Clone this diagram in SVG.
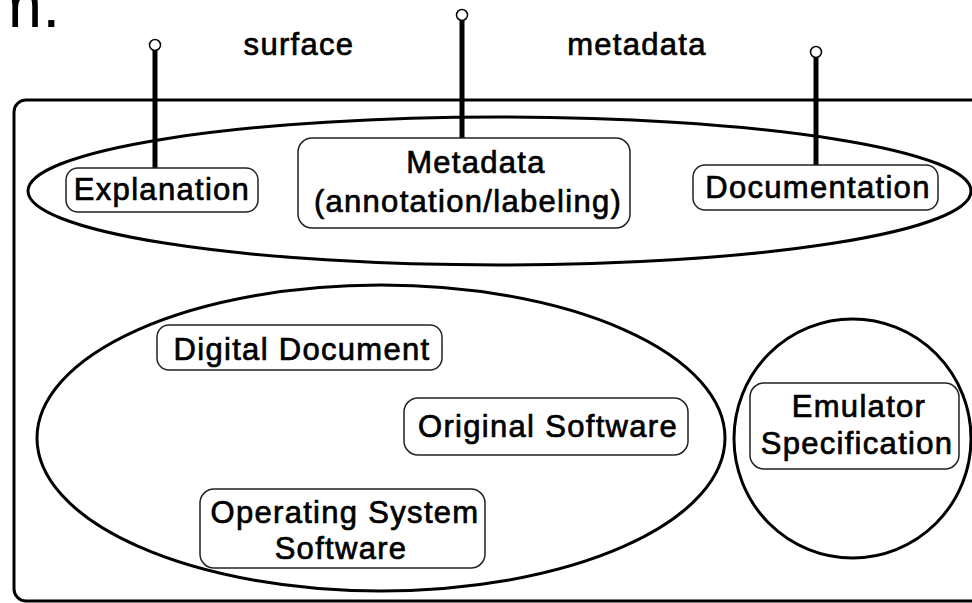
<svg xmlns="http://www.w3.org/2000/svg" width="972" height="603" viewBox="0 0 972 603">
<style>
  text { font-family: "Liberation Sans", Arial, sans-serif; fill: #000; }
  .lbl { font-size: 31px; letter-spacing: 1.3px; text-anchor: middle; stroke: #000; stroke-width: 0.7px; }
  .box { fill: #fff; stroke: #222; stroke-width: 1.5; }
  .area { fill: none; stroke: #000; stroke-width: 3; }
  .pin { stroke: #000; stroke-width: 5; fill: none; }
  .knob { fill: #fff; stroke: #000; stroke-width: 1.5; }
</style>
<rect width="972" height="603" fill="#fff"/>
<text x="-12" y="27" style="font-size:65px">m.</text>

<g id="frame">
  <rect class="area" x="14" y="100" width="1000" height="501" rx="12"/>
</g>
<g id="surface-metadata">
  <ellipse class="area" cx="499.5" cy="191" rx="471.5" ry="74"/>
</g>
<g id="core">
  <ellipse class="area" cx="381" cy="438" rx="344" ry="153"/>
</g>
<g id="emulator-area">
  <ellipse class="area" cx="852.5" cy="438.5" rx="118.5" ry="119.5"/>
</g>

<g id="connectors">
  <line class="pin" x1="155" y1="50" x2="155" y2="168"/>
  <circle class="knob" cx="155" cy="45" r="5.5"/>
  <line class="pin" x1="462" y1="20" x2="462" y2="138"/>
  <circle class="knob" cx="462" cy="15" r="5.5"/>
  <line class="pin" x1="816" y1="57" x2="816" y2="165"/>
  <circle class="knob" cx="816" cy="52" r="5.5"/>
</g>

<g id="label-surface"><text class="lbl" x="299" y="55">surface</text></g>
<g id="label-metadata"><text class="lbl" x="637" y="55">metadata</text></g>

<g id="explanation">
  <rect class="box" x="66" y="168" width="192" height="44" rx="12"/>
  <text class="lbl" x="162" y="200">Explanation</text>
</g>
<g id="metadata">
  <rect class="box" x="298" y="138" width="332" height="90" rx="14"/>
  <text class="lbl" x="476" y="173">Metadata</text>
  <text class="lbl" x="468" y="212">(annotation/labeling)</text>
</g>
<g id="documentation">
  <rect class="box" x="693" y="165" width="245" height="45" rx="12"/>
  <text class="lbl" x="818" y="198">Documentation</text>
</g>
<g id="digital-document">
  <rect class="box" x="157" y="325" width="285" height="45" rx="12"/>
  <text class="lbl" x="302" y="360">Digital Document</text>
</g>
<g id="original-software">
  <rect class="box" x="404" y="398" width="284" height="57" rx="14"/>
  <text class="lbl" x="548" y="437">Original Software</text>
</g>
<g id="os-software">
  <rect class="box" x="200" y="489" width="285" height="79" rx="14"/>
  <text class="lbl" x="345" y="523">Operating System</text>
  <text class="lbl" x="341" y="559">Software</text>
</g>
<g id="emulator-spec">
  <rect class="box" x="750" y="383" width="209" height="86" rx="14"/>
  <text class="lbl" x="859" y="417">Emulator</text>
  <text class="lbl" x="857" y="454">Specification</text>
</g>
</svg>
